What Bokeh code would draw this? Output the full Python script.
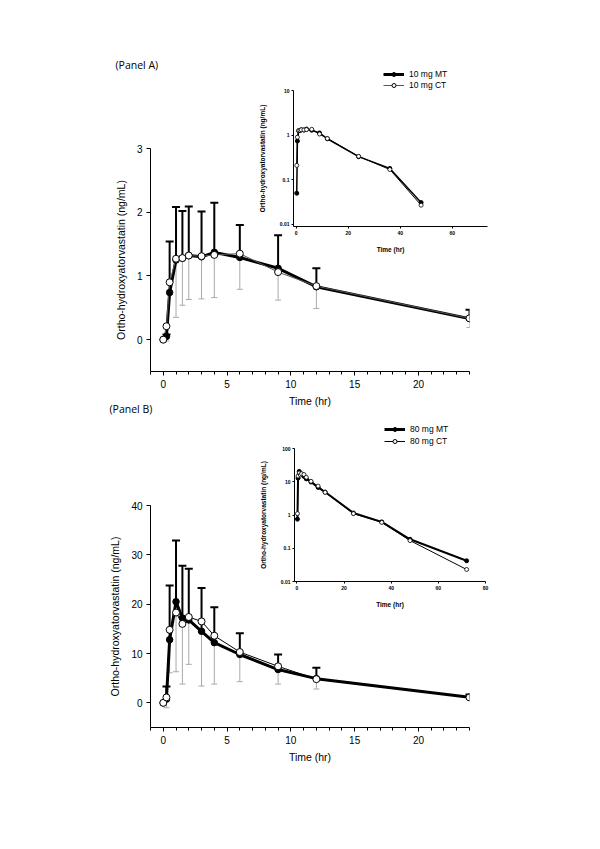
import numpy as np
from bokeh.plotting import figure
from bokeh.models import (Range1d, FixedTicker, Whisker, TeeHead, ColumnDataSource,
                          Legend, LegendItem, Label, GridBox)
from bokeh.embed import file_html
from bokeh.resources import INLINE

# ---------------- data ----------------
time_a = [0, 0.25, 0.5, 1, 1.5, 2, 3, 4, 6, 9, 12, 24, 36, 48]
mt_a = [0, 0.05, 0.74, 1.25, 1.28, 1.32, 1.30, 1.37, 1.29, 1.12, 0.83, 0.33, 0.18, 0.031]
ct_a = [0, 0.21, 0.90, 1.27, 1.28, 1.32, 1.31, 1.33, 1.35, 1.06, 0.84, 0.335, 0.17, 0.027]
mt_sd_a = [0, 0.03, 0.80, 0.83, 0.74, 0.77, 0.71, 0.78, 0.51, 0.52, 0.29, 0.14, 0, 0]
ct_sd_a = [0, 0.23, 0.15, 0.92, 0.74, 0.69, 0.67, 0.67, 0.56, 0.44, 0.35, 0.145, 0, 0]

time_b = [0, 0.25, 0.5, 1, 1.5, 2, 3, 4, 6, 9, 12, 24, 36, 48, 72]
mt_b = [0, 0.75, 12.8, 20.5, 17.2, 16.8, 14.5, 12.2, 9.8, 6.75, 4.9, 1.15, 0.62, 0.186, 0.042]
ct_b = [0, 1.1, 14.8, 18.3, 16.0, 17.4, 16.5, 13.6, 10.3, 7.4, 4.8, 1.1, 0.6, 0.17, 0.023]
mt_sd_b = [0, 2.55, 11.0, 12.4, 10.6, 10.4, 8.8, 7.2, 4.3, 3.05, 2.2, 0.55, 0, 0, 0]
ct_sd_b = [0, 2.1, 8.7, 12.0, 12.2, 9.6, 13.1, 9.8, 6.0, 3.6, 2.0, 0.3, 0, 0, 0]

main_x_ticks = [0, 5, 10, 15, 20]
ticks_a = [0, 1, 2, 3]
ticks_b = [0, 10, 20, 30, 40]
inset_log_ticks_a = [0.01, 0.1, 1, 10]
inset_log_ticks_b = [0.01, 0.1, 1, 10, 100]
inset_x_ticks_a = [0, 20, 40, 60]
inset_x_ticks_b = [0, 20, 40, 60, 80]

legend_a = ["10 mg MT", "10 mg CT"]
legend_b = ["80 mg MT", "80 mg CT"]
panel_a = "(Panel A)"
panel_b = "(Panel B)"
y_label = "Ortho-hydroxyatorvastatin (ng/mL)"
x_label = "Time (hr)"
FONT = "Liberation Sans"
W = 592
H_TOTAL = 841


def style_axis(ax, tick_size, label_size, bold=False, tick_out=4, minor_out=0,
               label_standoff=4, axis_standoff=8):
    ax.axis_line_color = "black"
    ax.axis_line_width = 1
    ax.major_tick_line_color = "black"
    ax.minor_tick_line_color = "black"
    ax.major_tick_in = 0
    ax.major_tick_out = tick_out
    ax.minor_tick_in = 0
    ax.minor_tick_out = minor_out
    ax.major_label_text_font = FONT
    ax.major_label_text_font_size = tick_size
    ax.major_label_text_color = "black"
    ax.major_label_text_font_style = "bold" if bold else "normal"
    ax.major_label_standoff = label_standoff
    ax.axis_label_text_font = FONT
    ax.axis_label_text_font_size = label_size
    ax.axis_label_text_font_style = "bold" if bold else "normal"
    ax.axis_label_text_color = "black"
    ax.axis_label_standoff = axis_standoff


def make_main(t, mt, ct, mt_sd, ct_sd, ylo, yhi, yticks, height, top, bottom, ct_color):
    t = np.array(t, float); mt = np.array(mt, float); ct = np.array(ct, float)
    mt_sd = np.array(mt_sd, float); ct_sd = np.array(ct_sd, float)
    m = t <= 24
    p = figure(width=W, height=height, x_range=Range1d(-1, 24), y_range=Range1d(ylo, yhi),
               toolbar_location=None, output_backend="svg", title=None,
               min_border_left=150, min_border_right=123, min_border_top=top,
               min_border_bottom=bottom, outline_line_color=None)
    p.frame_align = False
    p.xgrid.visible = False
    p.ygrid.visible = False
    p.xaxis.ticker = FixedTicker(ticks=main_x_ticks, minor_ticks=list(range(-1, 25)))
    p.yaxis.ticker = FixedTicker(ticks=yticks, minor_ticks=[])
    style_axis(p.xaxis[0], "10px", "10.5px", tick_out=4, minor_out=3, label_standoff=4, axis_standoff=4)
    style_axis(p.yaxis[0], "10px", "10.5px", tick_out=4, label_standoff=4, axis_standoff=7)
    p.xaxis.axis_label = x_label
    p.yaxis.axis_label = y_label

    mc = m & (ct_sd > 0)
    src_ct = ColumnDataSource(dict(t=t[mc], y=ct[mc], lo=(ct - ct_sd)[mc]))
    mm = m & (mt_sd > 0)
    src_mt = ColumnDataSource(dict(t=t[mm], y=mt[mm], up=(mt + mt_sd)[mm]))
    p.add_layout(Whisker(source=src_ct, base="t", upper="y", lower="lo",
                         line_color="#aaaaaa", line_width=1, upper_head=None,
                         lower_head=TeeHead(size=6, line_color="#aaaaaa", line_width=1)))
    p.add_layout(Whisker(source=src_mt, base="t", upper="up", lower="y",
                         line_color="black", line_width=2, lower_head=None,
                         upper_head=TeeHead(size=8, line_color="black", line_width=2)))

    p.line(t[m], mt[m], line_color="black", line_width=3)
    p.line(t[m], ct[m], line_color=ct_color, line_width=1)
    p.scatter(t[m], mt[m], marker="circle", size=6.5, fill_color="black", line_color="black")
    p.scatter(t[m], ct[m], marker="circle", size=7, fill_color="white",
              line_color="black", line_width=1)
    return p


def make_inset(t, mt, ct, xmax, ylo, yhi, xticks, yticks, height, top, bottom, left, right,
               mt_w, ct_color):
    t = np.array(t, float); mt = np.array(mt, float); ct = np.array(ct, float)
    m = t > 0
    p = figure(width=W, height=height, x_range=Range1d(-1, xmax), y_range=Range1d(ylo, yhi),
               y_axis_type="log", toolbar_location=None, output_backend="svg", title=None,
               min_border_left=left, min_border_right=right, min_border_top=top,
               min_border_bottom=bottom, outline_line_color=None,
               background_fill_color=None, border_fill_color=None)
    p.frame_align = False
    p.xgrid.visible = False
    p.ygrid.visible = False
    p.xaxis.ticker = FixedTicker(ticks=xticks, minor_ticks=[])
    p.yaxis.ticker = FixedTicker(ticks=yticks, minor_ticks=[])
    p.yaxis.major_label_overrides = {v: ("%g" % v) for v in yticks}
    style_axis(p.xaxis[0], "5px", "6.5px", bold=True, tick_out=2, label_standoff=2, axis_standoff=8)
    style_axis(p.yaxis[0], "5px", "6.5px", bold=True, tick_out=2, label_standoff=2, axis_standoff=11)
    p.xaxis.axis_label = x_label
    p.yaxis.axis_label = y_label
    p.line(t[m], mt[m], line_color="black", line_width=mt_w)
    p.line(t[m], ct[m], line_color=ct_color, line_width=1)
    p.scatter(t[m], mt[m], marker="circle", size=4, fill_color="black", line_color="black")
    p.scatter(t[m], ct[m], marker="circle", size=4, fill_color="white", line_color="black",
              line_width=0.8)
    return p


main_a = make_main(time_a, mt_a, ct_a, mt_sd_a, ct_sd_a, -0.5, 3, ticks_a, 420, 148, 49, "#555555")
inset_a = make_inset(time_a, mt_a, ct_a, 73.5, 0.009, 10, inset_x_ticks_a, inset_log_ticks_a,
                     260, 90, 34, 293, 105, 1.5, "black")
main_b = make_main(time_b, mt_b, ct_b, mt_sd_b, ct_sd_b, -5, 40, ticks_b, 421, 85, 114, "black")
inset_b = make_inset(time_b, mt_b, ct_b, 80, 0.01, 100, inset_x_ticks_b, inset_log_ticks_b,
                     200, 28, 39, 294, 107, 2, "black")

# ---- transparent overlay page for legends and panel captions (screen units) ----
ov = figure(width=W, height=H_TOTAL, x_range=Range1d(0, W), y_range=Range1d(0, H_TOTAL),
            toolbar_location=None, output_backend="svg", title=None,
            x_axis_location=None, y_axis_location=None, min_border=0,
            outline_line_color=None, background_fill_color=None, border_fill_color=None)
ov.frame_align = False
ov.xgrid.visible = False
ov.ygrid.visible = False


def legend_proxies(ct_color):
    # legend-only renderers: a single NaN row so the legend has styles but nothing is drawn
    e = lambda: ColumnDataSource(dict(x=[np.nan], y=[np.nan]))
    l1 = ov.line(x="x", y="y", source=e(), line_color="black", line_width=3)
    s1 = ov.scatter(x="x", y="y", source=e(), marker="circle", size=5.5,
                    fill_color="black", line_color="black")
    l2 = ov.line(x="x", y="y", source=e(), line_color=ct_color, line_width=1)
    s2 = ov.scatter(x="x", y="y", source=e(), marker="circle", size=6,
                    fill_color="white", line_color="black", line_width=1)
    return [l1, s1], [l2, s2]


def add_legend(labels, ct_color, loc, spacing):
    r1, r2 = legend_proxies(ct_color)
    leg = Legend(items=[LegendItem(label=labels[0], renderers=r1, index=0),
                        LegendItem(label=labels[1], renderers=r2, index=0)],
                 location=loc, padding=0, margin=0, spacing=spacing,
                 glyph_width=21, glyph_height=10, label_height=10, label_standoff=5,
                 border_line_color=None, background_fill_alpha=0,
                 label_text_font=FONT, label_text_font_size="8.5px", label_text_color="black")
    ov.add_layout(leg)


add_legend(legend_a, "#555555", (383, H_TOTAL - 89.5), 1)
add_legend(legend_b, "black", (384, H_TOTAL - 445.5), 2)

ov.add_layout(Label(x=115, y=H_TOTAL - 64, x_units="screen", y_units="screen", text=panel_a,
                    text_font="Open Sans", text_font_size="10.5px", text_color="black",
                    text_baseline="middle", text_align="left"))
ov.add_layout(Label(x=109, y=H_TOTAL - 408, x_units="screen", y_units="screen", text=panel_b,
                    text_font="Open Sans", text_font_size="10.5px", text_color="black",
                    text_baseline="middle", text_align="left"))

grid = GridBox(children=[(main_a, 0, 0, 2, 1), (inset_a, 0, 0, 1, 1),
                         (main_b, 2, 0, 2, 1), (inset_b, 2, 0, 1, 1),
                         (ov, 0, 0, 4, 1)],
               rows=["260px", "160px", "200px", "221px"], cols=["%dpx" % W])

open("out.html", "w").write(file_html(grid, INLINE))
